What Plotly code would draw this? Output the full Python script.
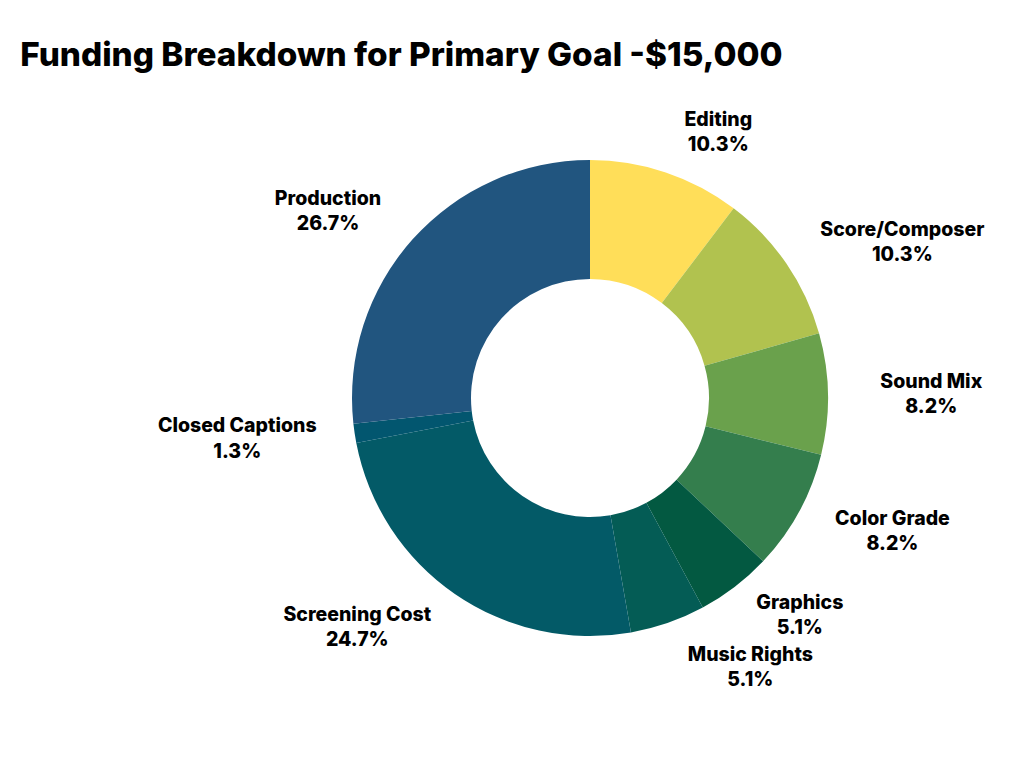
import plotly.graph_objects as go

labels = ["Editing", "Score/Composer", "Sound Mix", "Color Grade", "Graphics",
          "Music Rights", "Screening Cost", "Closed Captions", "Production"]
values = [10.3, 10.3, 8.2, 8.2, 5.1, 5.1, 24.7, 1.3, 26.7]
colors = ["#FFDE59", "#B1C24F", "#6AA14C", "#347E4D", "#035941",
          "#045C55", "#035A67", "#02566F", "#21557F"]
title = "Funding Breakdown for Primary Goal -$15,000"

# layout settings
W, H = 1024, 768
cx, cy, r_pie = 582, 390, 238
label_ring = {"Editing": 258, "Sound Mix": 278, "Color Grade": 265, "Graphics": 253,
              "Music Rights": 261, "Screening Cost": 257}
default_ring = 264
FONT = "Inter"


def dom(r):
    return dict(x=[(cx - r) / W, (cx + r) / W], y=[1 - (cy + r) / H, 1 - (cy - r) / H])


full_text = [f"{l}<br>{v:.1f}%" for l, v in zip(labels, values)]

fig = go.Figure()
# visible donut
fig.add_trace(go.Pie(
    labels=labels, values=values, hole=0.5, sort=False,
    direction="clockwise", rotation=0,
    marker=dict(colors=colors, line=dict(width=0)),
    textinfo="none", domain=dom(r_pie),
    showlegend=False, hoverinfo="label+value",
))
# one transparent ring per label, so outside labels never get scooted (no leader lines)
for k, lab in enumerate(labels):
    txt = [t if i == k else "" for i, t in enumerate(full_text)]
    fig.add_trace(go.Pie(
        labels=labels, values=values, hole=0.95, sort=False,
        direction="clockwise", rotation=0,
        marker=dict(colors=["rgba(0,0,0,0)"] * len(values), line=dict(width=0)),
        text=txt, textinfo="text",
        textposition="outside",
        textfont=dict(family=FONT, size=19.5, color="#000000", weight=800),
        domain=dom(label_ring.get(lab, default_ring)),
        showlegend=False, hoverinfo="skip",
    ))
fig.update_layout(
    width=W, height=H,
    margin=dict(l=0, r=0, t=0, b=0),
    paper_bgcolor="white", plot_bgcolor="white",
    title=dict(text=title, x=0.012, xanchor="left", y=0.94, yanchor="middle",
               font=dict(family=FONT, size=33.3, color="#000000", weight=800)),
)
fig.write_html("out.html")
